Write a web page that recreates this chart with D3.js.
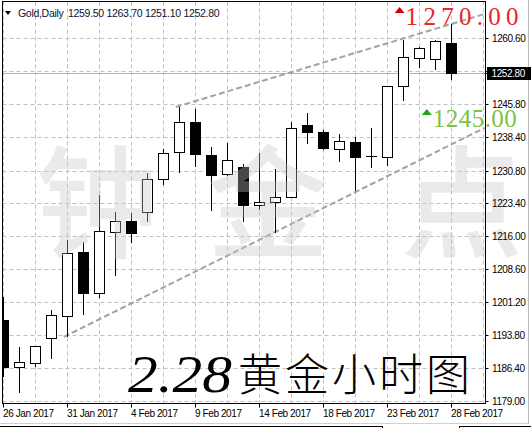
<!DOCTYPE html>
<html><head><meta charset="utf-8">
<script src="https://cdn.jsdelivr.net/npm/d3@7"></script>
<style>
html,body{margin:0;padding:0;background:#fff;}
svg{display:block;}
</style></head>
<body>
<svg id="c" width="531" height="428"></svg>
<script>
const categories = ["26 Jan 2017","27 Jan 2017","29 Jan 2017","30 Jan 2017","31 Jan 2017","1 Feb 2017","2 Feb 2017","3 Feb 2017","4 Feb 2017","6 Feb 2017","7 Feb 2017","8 Feb 2017","9 Feb 2017","10 Feb 2017","12 Feb 2017","13 Feb 2017","14 Feb 2017","15 Feb 2017","16 Feb 2017","17 Feb 2017","18 Feb 2017","20 Feb 2017","21 Feb 2017","22 Feb 2017","23 Feb 2017","24 Feb 2017","26 Feb 2017","27 Feb 2017","28 Feb 2017"];
const openVals  = [1197.2,1186.6,1187.5,1193.2,1198.1,1212.5,1203.3,1217.0,1219.5,1221.5,1228.9,1235.0,1241.7,1234.3,1230.0,1231.6,1223.1,1223.7,1224.9,1241.0,1239.5,1235.6,1237.2,1234.1,1233.8,1249.8,1256.1,1255.9,1259.5];
const highVals  = [1202.4,1191.1,1191.4,1199.5,1215.2,1214.7,1225.3,1221.5,1221.3,1230.3,1235.6,1245.1,1244.6,1236.1,1237.0,1232.3,1234.7,1231.2,1241.7,1243.7,1240.0,1239.0,1238.3,1240.4,1249.8,1260.1,1258.6,1260.1,1263.7];
const lowVals   = [1184.4,1180.8,1186.6,1188.4,1193.4,1198.3,1202.2,1207.1,1214.5,1219.2,1227.6,1230.3,1231.6,1221.7,1229.6,1219.2,1221.9,1216.8,1224.6,1236.8,1235.4,1232.7,1226.2,1231.4,1231.8,1246.4,1253.9,1253.4,1251.1];
const closeVals = [1186.6,1187.8,1191.4,1198.3,1212.3,1203.3,1217.2,1219.5,1216.8,1228.9,1234.7,1241.8,1234.5,1229.8,1233.2,1223.1,1223.7,1224.9,1240.4,1239.5,1235.9,1237.4,1233.8,1234.0,1249.8,1256.3,1258.4,1259.9,1252.8];

const yTicks = [1179.00,1186.40,1193.80,1201.20,1208.60,1216.00,1223.40,1230.80,1238.40,1245.80,1253.20,1260.60];
const yTickLabels = ["1179.00","1186.40","1193.80","1201.20","1208.60","1216.00","1223.40","1230.80","1238.40","1245.80","","1260.60"];
const xTickLabels = ["26 Jan 2017","31 Jan 2017","4 Feb 2017","9 Feb 2017","14 Feb 2017","18 Feb 2017","23 Feb 2017","28 Feb 2017"];

const symbolName = "Gold,Daily";
const ohlcHeader = ["1259.50","1263.70","1251.10","1252.80"];
const currentPrice = 1252.80;

// trend lines: [barIndex, price] anchors
const upperTrend = [[10.8,1245.1],[30.1,1266.0]];
const lowerTrend = [[3.8,1193.4],[30.1,1240.4]];

const levelLabels = [
  {text:"1270.00", idx:25.1, price:1263.5, color:"#e8262b", tri:"#d40000", width:113},
  {text:"1245.00", idx:26.8, price:1240.6, color:"#7ec242", tri:"#18a818", width:84}
];

const watermark = ["钟","金","点"];
const titleNum = "2.28";
const titleCJK = "黄金小时图";

const svg = d3.select("#c");
const L = 2.5, R = 485.5, T = 1.5, B = 403.5;

const x = d3.scalePoint().domain(categories).range([3, 451]);
const xi = d3.scaleLinear().domain([0, 28]).range([3, 451]);
const y = d3.scaleLinear().domain([1179, 1260.6]).range([401, 38]);

svg.append("defs").append("clipPath").attr("id","plot")
  .append("rect").attr("x",L).attr("y",T).attr("width",R-L).attr("height",B-T);

// outer frame bits
svg.append("line").attr("x1",528.5).attr("x2",528.5).attr("y1",0).attr("y2",423).attr("stroke","#b8b8b8");
svg.append("line").attr("x1",0).attr("x2",529).attr("y1",423.5).attr("y2",423.5).attr("stroke","#d0d0d0");
svg.append("line").attr("x1",0).attr("x2",382).attr("y1",426.5).attr("y2",426.5).attr("stroke","#000");
svg.append("line").attr("x1",460).attr("x2",531).attr("y1",426.5).attr("y2",426.5).attr("stroke","#000");
svg.append("line").attr("x1",382.5).attr("x2",382.5).attr("y1",426).attr("y2",428).attr("stroke","#000");
svg.append("line").attr("x1",459.5).attr("x2",459.5).attr("y1",426).attr("y2",428).attr("stroke","#000");

const g = svg.append("g").attr("clip-path","url(#plot)");

// grid
g.selectAll(".hg").data(yTicks).join("line")
  .attr("x1",L).attr("x2",R)
  .attr("y1",d=>Math.round(y(d))+0.5).attr("y2",d=>Math.round(y(d))+0.5)
  .attr("stroke","#c0c0c0").attr("stroke-dasharray","4,3");
g.selectAll(".vg").data(d3.range(0,31,2)).join("line")
  .attr("x1",d=>Math.round(xi(d))+0.5).attr("x2",d=>Math.round(xi(d))+0.5)
  .attr("y1",T).attr("y2",B)
  .attr("stroke","#c0c0c0").attr("stroke-dasharray","4,3");

// current price line
g.append("line").attr("x1",L).attr("x2",R)
  .attr("y1",Math.round(y(currentPrice))+0.5).attr("y2",Math.round(y(currentPrice))+0.5)
  .attr("stroke","#b4b4b4");

// trend lines
const tl = d3.line().x(d=>xi(d[0])).y(d=>y(d[1]));
[upperTrend, lowerTrend].forEach(t=>{
  g.append("path").attr("d",tl(t)).attr("fill","none")
   .attr("stroke","#a3a3a3").attr("stroke-width",2).attr("stroke-dasharray","6,3");
});

// candles
const candles = categories.map((c,i)=>({c, o:openVals[i], h:highVals[i], l:lowVals[i], cl:closeVals[i]}));
const cg = g.selectAll(".cd").data(candles).join("g");
cg.append("line")
  .attr("x1",d=>Math.round(x(d.c))+0.5).attr("x2",d=>Math.round(x(d.c))+0.5)
  .attr("y1",d=>Math.round(y(d.h))).attr("y2",d=>Math.round(y(d.l)))
  .attr("stroke","#000");
cg.append("rect")
  .attr("x",d=>Math.round(x(d.c))-5+0.5)
  .attr("width",10)
  .attr("y",d=>Math.round(y(Math.max(d.o,d.cl)))+0.5)
  .attr("height",d=>Math.max(0.01, Math.round(y(Math.min(d.o,d.cl)))-Math.round(y(Math.max(d.o,d.cl)))))
  .attr("fill",d=>d.cl<d.o?"#000":"#fff")
  .attr("stroke","#000");

// watermark (semi-transparent, over the candles)
const wmX = [97, 268, 462];
svg.append("g").selectAll(".wm").data(watermark).join("text")
  .attr("x",(d,i)=>wmX[i]).attr("y",248)
  .attr("text-anchor","middle")
  .attr("font-family","Noto Sans CJK SC").attr("font-weight",500)
  .attr("font-size",122)
  .attr("fill","#c4c4c4").attr("fill-opacity",0.36)
  .text(d=>d);

// header
svg.append("path").attr("d","M5,11 L11,11 L8,15 Z").attr("fill","#000");
svg.append("text").attr("x",18).attr("y",17)
  .attr("font-family","Liberation Sans, Arial, sans-serif").attr("font-size",10.5)
  .attr("letter-spacing",-0.3).attr("fill","#101030")
  .text(symbolName);
svg.append("text").attr("x",68).attr("y",17)
  .attr("font-family","Liberation Sans, Arial, sans-serif").attr("font-size",10.5)
  .attr("letter-spacing",-0.3).attr("fill","#101030")
  .text(ohlcHeader.join(" "));

// frame
svg.append("rect").attr("x",L).attr("y",T).attr("width",R-L).attr("height",B-T)
  .attr("fill","none").attr("stroke","#000");

// y axis
const ya = svg.append("g").attr("transform",`translate(${R},0)`)
  .call(d3.axisRight(y).tickValues(yTicks).tickSize(3).tickFormat((d,i)=>yTickLabels[i]));
ya.select(".domain").remove();
ya.selectAll(".tick").attr("transform",d=>`translate(0,${Math.round(y(d))+0.5})`);
ya.selectAll("text").attr("x",6.5).attr("font-family","Liberation Sans, Arial, sans-serif")
  .attr("font-size",10).attr("letter-spacing",-0.4).attr("fill","#000");

// current price tag
const cpY = Math.round(y(currentPrice));
svg.append("rect").attr("x",487).attr("y",cpY-6).attr("width",44).attr("height",13).attr("fill","#000");
svg.append("line").attr("x1",R).attr("x2",489).attr("y1",cpY+0.5).attr("y2",cpY+0.5).attr("stroke","#000");
svg.append("text").attr("x",491.5).attr("y",cpY+4)
  .attr("font-family","Liberation Sans, Arial, sans-serif").attr("font-size",10).attr("letter-spacing",-0.4)
  .attr("fill","#fff").text(currentPrice.toFixed(2));

// x axis
const xa = svg.append("g").attr("transform",`translate(0,${B})`)
  .call(d3.axisBottom(x).tickValues(xTickLabels).tickSize(4));
xa.select(".domain").remove();
xa.selectAll(".tick").attr("transform",d=>`translate(${Math.round(x(d))+0.5},0)`);
xa.selectAll("text").attr("text-anchor","start").attr("x",-0.5).attr("y",6)
  .attr("font-family","Liberation Sans, Arial, sans-serif").attr("font-size",10)
  .attr("letter-spacing",-0.4).attr("fill","#000");

// level labels
levelLabels.forEach(l=>{
  const px = xi(l.idx), py = y(l.price);
  svg.append("path").attr("d",`M${px-10},${py-12} L${px},${py-12} L${px-5},${py-18} Z`).attr("fill",l.tri);
  svg.append("text").attr("x",px+1).attr("y",py)
    .attr("font-family","Liberation Serif, serif").attr("font-size",25)
    .attr("fill",l.color).attr("textLength",l.width).attr("lengthAdjust","spacing")
    .text(l.text);
});

// big title
svg.append("text").attr("x",128).attr("y",392)
  .attr("font-family","Liberation Serif, serif").attr("font-style","italic").attr("font-size",52)
  .attr("textLength",104).attr("lengthAdjust","spacingAndGlyphs")
  .attr("fill","#000").text(titleNum);
svg.append("text").attr("x",238).attr("y",391)
  .attr("font-family","Noto Sans CJK SC").attr("font-weight",300).attr("font-size",44)
  .attr("textLength",232).attr("lengthAdjust","spacing")
  .attr("fill","#000").text(titleCJK);
</script>
</body></html>
